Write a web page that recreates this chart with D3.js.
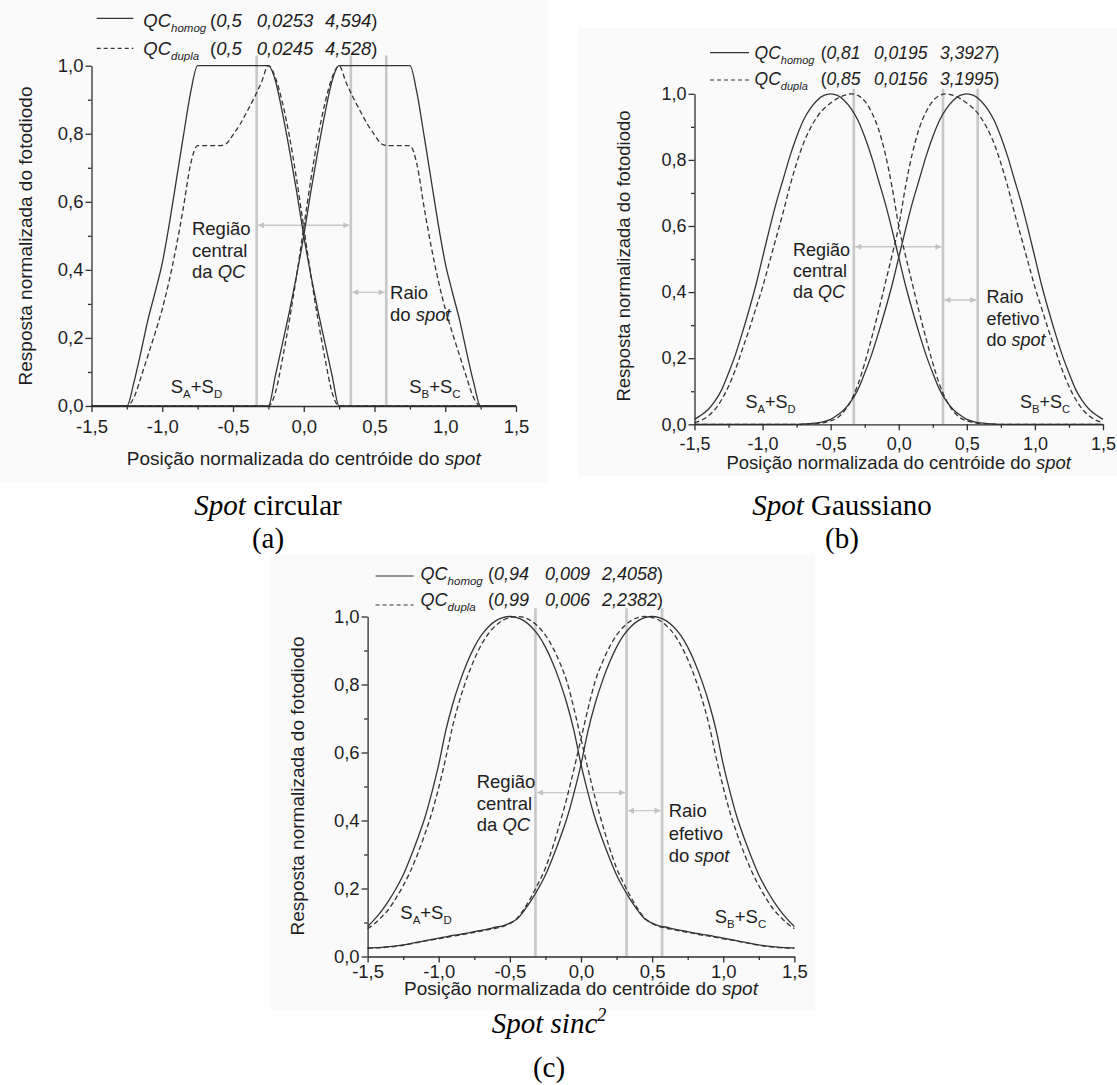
<!DOCTYPE html>
<html><head><meta charset="utf-8">
<script src="https://cdn.jsdelivr.net/npm/d3@7"></script>
<style>
html,body{margin:0;padding:0;background:#fff;}
svg{display:block;}
text{font-family:"Liberation Sans",Arial,sans-serif;fill:#1e1e1e;}
text.serif{font-family:"Liberation Serif","Times New Roman",serif;fill:#000;}
</style></head><body>
<svg id="chart" width="1117" height="1085"></svg>
<script>
// ---------------- DATA ----------------
const xPos = [-1.5,-1.45,-1.4,-1.35,-1.3,-1.25,-1.2,-1.15,-1.1,-1.05,-1,-0.95,-0.9,-0.85,-0.8,-0.75,-0.7,-0.65,-0.6,-0.55,-0.5,-0.45,-0.4,-0.35,-0.3,-0.25,-0.2,-0.15,-0.1,-0.05,0,0.05,0.1,0.15,0.2,0.25,0.3,0.35,0.4,0.45,0.5,0.55,0.6,0.65,0.7,0.75,0.8,0.85,0.9,0.95,1,1.05,1.1,1.15,1.2,1.25,1.3,1.35,1.4,1.45,1.5];

// (a) Spot circular
const circHomogAD = [0,0,0,0,0,0,0.07,0.16,0.255,0.335,0.42,0.535,0.665,0.795,0.92,1,1,1,1,1,1,1,1,1,1,1,0.955,0.86,0.75,0.63,0.5,0.385,0.28,0.185,0.09,0,0,0,0,0,0,0,0,0,0,0,0,0,0,0,0,0,0,0,0,0,0,0,0,0,0];
const circHomogBC = [0,0,0,0,0,0,0,0,0,0,0,0,0,0,0,0,0,0,0,0,0,0,0,0,0,0,0.09,0.185,0.28,0.385,0.5,0.63,0.75,0.86,0.955,1,1,1,1,1,1,1,1,1,1,1,0.92,0.795,0.665,0.535,0.42,0.335,0.255,0.16,0.07,0,0,0,0,0,0];
const circDuplaAD = [0,0,0,0,0,0,0.025,0.085,0.15,0.215,0.285,0.37,0.47,0.585,0.71,0.765,0.765,0.765,0.765,0.77,0.797,0.828,0.866,0.906,0.95,1,0.965,0.89,0.79,0.665,0.525,0.385,0.255,0.14,0.04,0,0,0,0,0,0,0,0,0,0,0,0,0,0,0,0,0,0,0,0,0,0,0,0,0,0];
const circDuplaBC = [0,0,0,0,0,0,0,0,0,0,0,0,0,0,0,0,0,0,0,0,0,0,0,0,0,0,0.04,0.14,0.255,0.385,0.525,0.665,0.79,0.89,0.965,1,0.95,0.906,0.866,0.828,0.797,0.77,0.765,0.765,0.765,0.765,0.71,0.585,0.47,0.37,0.285,0.215,0.15,0.085,0.025,0,0,0,0,0,0];

// (b) Spot Gaussiano
const gaussHomogAD = [0.015,0.028,0.045,0.07,0.105,0.155,0.21,0.275,0.345,0.42,0.505,0.59,0.67,0.74,0.81,0.87,0.92,0.955,0.98,0.995,1,0.995,0.98,0.955,0.92,0.87,0.81,0.74,0.67,0.59,0.505,0.42,0.345,0.275,0.21,0.155,0.105,0.07,0.045,0.028,0.015,0.008,0.004,0.002,0.001,0,0,0,0,0,0,0,0,0,0,0,0,0,0,0,0];
const gaussHomogBC = [0,0,0,0,0,0,0,0,0,0,0,0,0,0,0,0,0.001,0.002,0.004,0.008,0.015,0.028,0.045,0.07,0.105,0.155,0.21,0.275,0.345,0.42,0.505,0.59,0.67,0.74,0.81,0.87,0.92,0.955,0.98,0.995,1,0.995,0.98,0.955,0.92,0.87,0.81,0.74,0.67,0.59,0.505,0.42,0.345,0.275,0.21,0.155,0.105,0.07,0.045,0.028,0.015];
const gaussDuplaAD = [0.005,0.012,0.025,0.045,0.075,0.115,0.165,0.225,0.285,0.35,0.415,0.49,0.565,0.64,0.72,0.79,0.85,0.895,0.93,0.955,0.972,0.986,0.995,1,0.995,0.978,0.945,0.895,0.82,0.72,0.6,0.51,0.425,0.34,0.26,0.185,0.12,0.072,0.04,0.02,0.01,0.005,0.002,0.001,0,0,0,0,0,0,0,0,0,0,0,0,0,0,0,0,0];
const gaussDuplaBC = [0,0,0,0,0,0,0,0,0,0,0,0,0,0,0,0,0,0.001,0.002,0.005,0.01,0.02,0.04,0.072,0.12,0.185,0.26,0.34,0.425,0.51,0.6,0.72,0.82,0.895,0.945,0.978,0.995,1,0.995,0.986,0.972,0.955,0.93,0.895,0.85,0.79,0.72,0.64,0.565,0.49,0.415,0.35,0.285,0.225,0.165,0.115,0.075,0.045,0.025,0.012,0.005];

// (c) Spot sinc^2
const sincHomogAD = [0.088,0.11,0.135,0.165,0.2,0.24,0.29,0.345,0.405,0.48,0.565,0.665,0.745,0.81,0.865,0.91,0.945,0.97,0.987,0.997,1,0.997,0.987,0.97,0.945,0.91,0.865,0.81,0.745,0.665,0.565,0.48,0.405,0.345,0.29,0.24,0.2,0.165,0.135,0.11,0.098,0.09,0.086,0.081,0.077,0.073,0.069,0.065,0.062,0.058,0.054,0.05,0.046,0.042,0.038,0.034,0.031,0.029,0.027,0.026,0.025];
const sincHomogBC = [0.025,0.026,0.027,0.029,0.031,0.034,0.038,0.042,0.046,0.05,0.054,0.058,0.062,0.065,0.069,0.073,0.077,0.081,0.086,0.09,0.098,0.11,0.135,0.165,0.2,0.24,0.29,0.345,0.405,0.48,0.565,0.665,0.745,0.81,0.865,0.91,0.945,0.97,0.987,0.997,1,0.997,0.987,0.97,0.945,0.91,0.865,0.81,0.745,0.665,0.565,0.48,0.405,0.345,0.29,0.24,0.2,0.165,0.135,0.11,0.088];
const sincDuplaAD = [0.082,0.097,0.117,0.14,0.172,0.208,0.25,0.3,0.357,0.42,0.497,0.585,0.681,0.758,0.821,0.874,0.917,0.95,0.973,0.989,0.997,1,0.997,0.987,0.97,0.945,0.91,0.865,0.81,0.73,0.64,0.55,0.465,0.39,0.32,0.26,0.215,0.175,0.14,0.112,0.097,0.088,0.083,0.079,0.075,0.071,0.067,0.063,0.06,0.056,0.052,0.049,0.045,0.041,0.037,0.033,0.03,0.028,0.026,0.025,0.024];
const sincDuplaBC = [0.024,0.025,0.026,0.028,0.03,0.033,0.037,0.041,0.045,0.049,0.052,0.056,0.06,0.063,0.067,0.071,0.075,0.079,0.083,0.088,0.097,0.112,0.14,0.175,0.215,0.26,0.32,0.39,0.465,0.55,0.64,0.73,0.81,0.865,0.91,0.945,0.97,0.987,0.997,1,0.997,0.989,0.973,0.95,0.917,0.874,0.821,0.758,0.681,0.585,0.497,0.42,0.357,0.3,0.25,0.208,0.172,0.14,0.117,0.097,0.082];

// ticks & labels
const xTickValues = [-1.5,-1,-0.5,0,0.5,1,1.5];
const xTickLabels = ["-1,5","-1,0","-0,5","0,0","0,5","1,0","1,5"];
const xMinorTicks = [-1.25,-0.75,-0.25,0.25,0.75,1.25];
const yTickValues = [0,0.2,0.4,0.6,0.8,1];
const yTickLabels = ["0,0","0,2","0,4","0,6","0,8","1,0"];
const yMinorTicks = [0.1,0.3,0.5,0.7,0.9];

// legend parameters (QC_homog row, QC_dupla row)
const legendParamsA = [["0,5","0,0253","4,594"],["0,5","0,0245","4,528"]];
const legendParamsB = [["0,81","0,0195","3,3927"],["0,85","0,0156","3,1995"]];
const legendParamsC = [["0,94","0,009","2,4058"],["0,99","0,006","2,2382"]];
const legendNames = ["homog","dupla"];

// vertical reference lines (central region limits, spot radius)
const refLinesA = [-0.333,0.333,0.583];
const refLinesB = [-0.33,0.325,0.58];
const refLinesC = [-0.32,0.32,0.57];

const yTitle = "Resposta normalizada do fotodiodo";
const xTitleParts = [["Posição normalizada do centróide do ",false],["spot",true]];
const regiaoLines = [[["Região",false]],[["central",false]],[["da ",false],["QC",true]]];
const raioLinesA = [[["Raio",false]],[["do ",false],["spot",true]]];
const raioLinesBC = [[["Raio",false]],[["efetivo",false]],[["do ",false],["spot",true]]];
const captionA = [["Spot",true],[" circular",false]];
const captionB = [["Spot",true],[" Gaussiano",false]];
const captionC = [["Spot sinc",true],["2",true,"sup"]];
const captionLetters = ["(a)","(b)","(c)"];

// ---------------- LAYOUT ----------------
const panels = [
 {x0:91.5,x1:516,yb:406,yt:65.7,bg:[0,0,548,482],
  refLines:refLinesA,refTop:1.03,arrow1:0.531,arrow2:0.334,
  series:[circHomogAD,circHomogBC,circDuplaAD,circDuplaBC],
  params:legendParamsA,
  leg:{lx0:96.7,lx1:133.3,ly:[18.3,48.3],qx:143.3,base:[26.7,55],nx:[210,256.7,325],fs:18.5,sfs:11.5},
  fs:18.5,tickOff:27,ytx:25,yty:236,xtb:465,
  regiao:{x:-0.79,ys:[0.503,0.439,0.375]},raio:{x:0.61,ys:[0.315,0.25]},raioLines:raioLinesA,
  sad:{x:-0.94,y:0.038},sbc:{x:0.745,y:0.038},
  cap:{x:268,y:515,y2:548,parts:captionA,letter:captionLetters[0]}},
 {x0:694.5,x1:1103,yb:424.3,yt:93.8,bg:[578,28,539,448],
  refLines:refLinesB,refTop:1.015,arrow1:0.537,arrow2:0.376,
  series:[gaussHomogAD,gaussHomogBC,gaussDuplaAD,gaussDuplaBC],
  params:legendParamsB,
  leg:{lx0:710,lx1:749,ly:[52.7,80],qx:754.6,base:[59.3,85],nx:[820.7,874,940],fs:17.5,sfs:11},
  fs:18,tickOff:25.5,ytx:624,yty:256,xtb:469,
  regiao:{x:-0.776,ys:[0.51,0.446,0.382]},raio:{x:0.645,ys:[0.366,0.301,0.236]},raioLines:raioLinesBC,
  sad:{x:-1.126,y:0.048},sbc:{x:0.89,y:0.048},
  cap:{x:842,y:515,y2:548,parts:captionB,letter:captionLetters[1]}},
 {x0:367.6,x1:794.4,yb:956.5,yt:616.5,bg:[270,555,545,455],
  refLines:refLinesC,refTop:1.024,arrow1:0.482,arrow2:0.429,
  series:[sincHomogAD,sincHomogBC,sincDuplaAD,sincDuplaBC],
  params:legendParamsC,
  leg:{lx0:375.6,lx1:413.6,ly:[576,605],qx:420.6,base:[580,606],nx:[488,545,602],fs:18,sfs:11.5},
  fs:18.5,tickOff:21.8,ytx:297.7,yty:786,xtb:995,
  regiao:{x:-0.733,ys:[0.495,0.431,0.368]},raio:{x:0.616,ys:[0.41,0.343,0.277]},raioLines:raioLinesBC,
  sad:{x:-1.27,y:0.11},sbc:{x:0.94,y:0.1},
  cap:{x:549,y:1033,y2:1077,parts:captionC,letter:captionLetters[2]}}
];

const svg = d3.select("#chart");
const defs = svg.append("defs");
defs.append("marker").attr("id","ah").attr("viewBox","0 0 10 10")
  .attr("refX",10).attr("refY",5).attr("markerWidth",7).attr("markerHeight",6)
  .attr("markerUnits","userSpaceOnUse").attr("orient","auto-start-reverse")
  .append("path").attr("d","M0,0 L10,5 L0,10 Z").attr("fill","#c2c2c2");

const CURVE = "#343434", AXIS = "#2e2e2e", GRAY = "#c8c8c8";

function richText(g, x, y, parts, fs, anchor){
  const t = g.append("text").attr("x",x).attr("y",y).attr("font-size",fs);
  if(anchor) t.attr("text-anchor",anchor);
  parts.forEach(p=>{
    const s = t.append("tspan").text(p[0]);
    if(p[1]) s.attr("font-style","italic");
  });
  return t;
}

function drawPanel(p){
  const g = svg.append("g");
  g.append("rect").attr("x",p.bg[0]).attr("y",p.bg[1]).attr("width",p.bg[2]).attr("height",p.bg[3]).attr("fill","#fafafa");
  const x = d3.scaleLinear().domain([-1.5,1.5]).range([p.x0,p.x1]);
  const y = d3.scaleLinear().domain([0,1]).range([p.yb,p.yt]);

  // reference lines
  p.refLines.forEach(v=>{
    g.append("line").attr("x1",x(v)).attr("x2",x(v)).attr("y1",y(0)).attr("y2",y(p.refTop))
      .attr("stroke",GRAY).attr("stroke-width",2.6);
  });
  // arrows
  const arrow = (a,b,yy)=>g.append("line").attr("x1",x(a)+1.5).attr("x2",x(b)-1.5).attr("y1",y(yy)).attr("y2",y(yy))
      .attr("stroke","#c8c8c8").attr("stroke-width",1.4)
      .attr("marker-start","url(#ah)").attr("marker-end","url(#ah)");
  arrow(p.refLines[0],p.refLines[1],p.arrow1);
  arrow(p.refLines[1],p.refLines[2],p.arrow2);

  // curves
  const line = d3.line().x((d,i)=>x(xPos[i])).y(d=>y(d)).curve(d3.curveMonotoneX);
  p.series.forEach((s,k)=>{
    g.append("path").attr("d",line(s)).attr("fill","none").attr("stroke",CURVE)
      .attr("stroke-width",1.3).attr("stroke-dasharray",k>=2?"5,3":null);
  });

  // axes
  const gx = g.append("g").attr("transform",`translate(0,${p.yb})`)
    .call(d3.axisBottom(x).tickValues(xTickValues).tickSize(6).tickSizeOuter(0).tickFormat((d,i)=>xTickLabels[i]));
  gx.attr("font-size",p.fs);
  gx.selectAll("text").attr("y",p.tickOff).attr("dy",null);
  const gxm = g.append("g").attr("transform",`translate(0,${p.yb})`)
    .call(d3.axisBottom(x).tickValues(xMinorTicks).tickSize(3.5).tickFormat(""));
  gxm.select(".domain").remove();
  const gy = g.append("g").attr("transform",`translate(${p.x0},0)`)
    .call(d3.axisLeft(y).tickValues(yTickValues).tickSize(6).tickPadding(2).tickSizeOuter(0).tickFormat((d,i)=>yTickLabels[i]));
  gy.attr("font-size",p.fs);
  const gym = g.append("g").attr("transform",`translate(${p.x0},0)`)
    .call(d3.axisLeft(y).tickValues(yMinorTicks).tickSize(3.5).tickFormat(""));
  gym.select(".domain").remove();
  [gx,gxm,gy,gym].forEach(a=>{
    a.selectAll("path,line").attr("stroke",AXIS).attr("stroke-width",1.3);
  });

  // titles
  g.append("text").attr("transform",`translate(${p.ytx},${p.yty}) rotate(-90)`).attr("text-anchor","middle")
    .attr("dy","0.35em").attr("font-size",p.fs+0.5).text(yTitle);
  richText(g,(p.x0+p.x1)/2,p.xtb,xTitleParts,p.fs+0.5,"middle");

  // annotations
  regiaoLines.forEach((ln,i)=>richText(g,x(p.regiao.x),y(p.regiao.ys[i]),ln,p.fs));
  p.raioLines.forEach((ln,i)=>richText(g,x(p.raio.x),y(p.raio.ys[i]),ln,p.fs));
  const sLabel=(pos,a,b)=>{
    const t=g.append("text").attr("x",x(pos.x)).attr("y",y(pos.y)).attr("font-size",p.fs).attr("fill","#333");
    t.append("tspan").text("S");
    t.append("tspan").text(a).attr("font-size",p.fs*0.62).attr("dy",5);
    t.append("tspan").text("+S").attr("dy",-5);
    t.append("tspan").text(b).attr("font-size",p.fs*0.62).attr("dy",5);
  };
  sLabel(p.sad,"A","D");
  sLabel(p.sbc,"B","C");

  // legend
  const L=p.leg;
  [0,1].forEach(r=>{
    g.append("line").attr("x1",L.lx0).attr("x2",L.lx1).attr("y1",L.ly[r]).attr("y2",L.ly[r])
      .attr("stroke",CURVE).attr("stroke-width",1.2).attr("stroke-dasharray",r===1?"4,3":null);
    const t=g.append("text").attr("x",L.qx).attr("y",L.base[r]).attr("font-size",L.fs).attr("font-style","italic");
    t.append("tspan").text("QC");
    t.append("tspan").text(legendNames[r]).attr("font-size",L.sfs).attr("dy",5);
    const pr=p.params[r];
    const t1=g.append("text").attr("x",L.nx[0]).attr("y",L.base[r]).attr("font-size",L.fs);
    t1.append("tspan").text("(");
    t1.append("tspan").text(pr[0]).attr("font-style","italic");
    g.append("text").attr("x",L.nx[1]).attr("y",L.base[r]).attr("font-size",L.fs).attr("font-style","italic").text(pr[1]);
    const t3=g.append("text").attr("x",L.nx[2]).attr("y",L.base[r]).attr("font-size",L.fs);
    t3.append("tspan").text(pr[2]).attr("font-style","italic");
    t3.append("tspan").text(")");
  });

  // caption
  const c=p.cap;
  const ct=svg.append("text").attr("class","serif").attr("x",c.x).attr("y",c.y).attr("text-anchor","middle").attr("font-size",29);
  c.parts.forEach(pt=>{
    const s=ct.append("tspan").text(pt[0]);
    if(pt[1]) s.attr("font-style","italic");
    if(pt[2]==="sup") s.attr("font-size",18).attr("dy",-12);
  });
  svg.append("text").attr("class","serif").attr("x",c.x).attr("y",c.y2).attr("text-anchor","middle").attr("font-size",29).text(c.letter);
}

panels.forEach(drawPanel);
</script></body></html>
